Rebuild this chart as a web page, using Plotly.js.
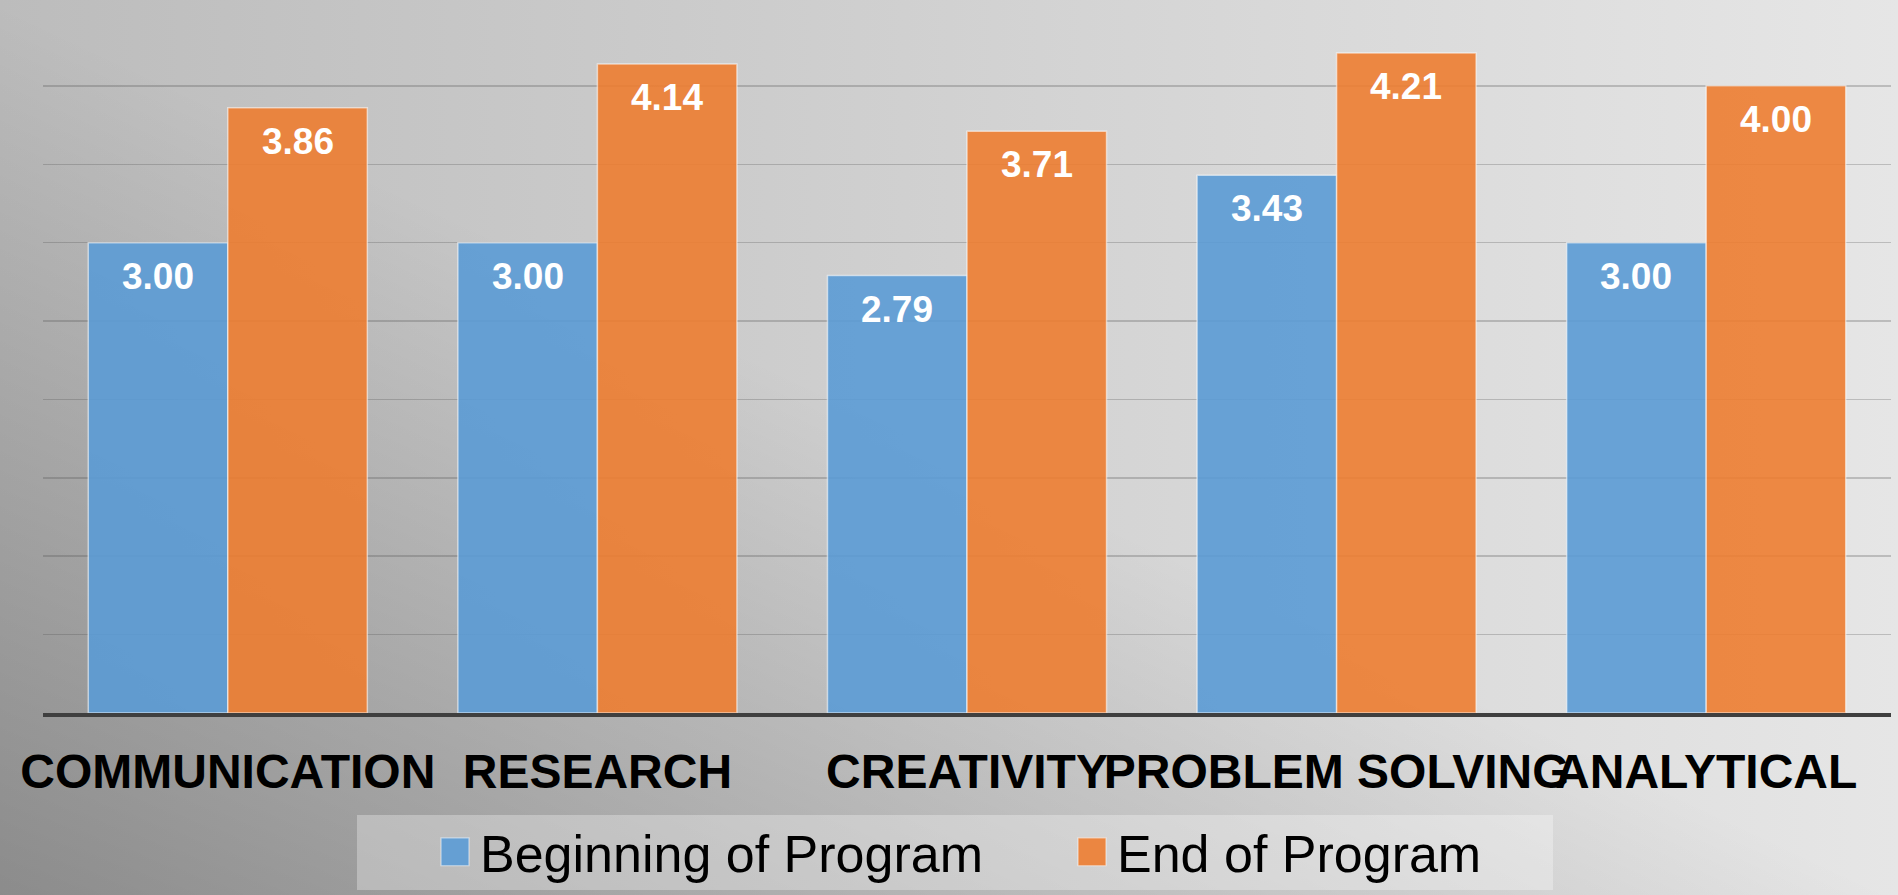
<!DOCTYPE html>
<html>
<head>
<meta charset="utf-8">
<script src="https://cdn.plot.ly/plotly-3.0.1.min.js"></script>
<style>
  html, body { margin: 0; padding: 0; }
  body {
    width: 1898px; height: 895px; overflow: hidden;
    background:
      linear-gradient(to top right, rgba(0,0,0,0.26) 0%, rgba(0,0,0,0) 50%),
      linear-gradient(to right, #bcbcbc 0%, #e6e6e6 100%);
  }
  #chart { width: 1898px; height: 895px; }
</style>
</head>
<body>
<div id="chart"></div>
<script>
const categories = ["COMMUNICATION", "RESEARCH", "CREATIVITY", "PROBLEM SOLVING", "ANALYTICAL"];
const beginningValues = [3.00, 3.00, 2.79, 3.43, 3.00];
const endValues = [3.86, 4.14, 3.71, 4.21, 4.00];
const seriesNames = ["Beginning of Program", "End of Program"];
const yTicks = [0, 0.5, 1, 1.5, 2, 2.5, 3, 3.5, 4, 4.5];

const blue = "rgba(91,155,213,0.9)";
const orange = "rgba(237,125,49,0.9)";
const barLine = { color: "rgba(255,255,255,0.55)", width: 1.5 };
const FONT = "Liberation Sans, Arial, sans-serif";

const traces = [
  { type: "bar", name: seriesNames[0], x: categories, y: beginningValues,
    marker: { color: blue, line: barLine } },
  { type: "bar", name: seriesNames[1], x: categories, y: endValues,
    marker: { color: orange, line: barLine } }
];

const M = { l: 43, r: 7, t: 7, b: 182 };
const plotW = 1898 - M.l - M.r;
const plotH = 895 - M.t - M.b;
const catW = plotW / categories.length;
const bargap = 0.245;
const halfBar = catW * (1 - bargap) / 4;

const annotations = [];
categories.forEach((c, i) => {
  [[beginningValues, -halfBar], [endValues, halfBar]].forEach(([vals, dx]) => {
    annotations.push({
      x: c, y: vals[i], xref: "x", yref: "y",
      text: vals[i].toFixed(2), showarrow: false,
      xanchor: "center", yanchor: "top", xshift: dx, yshift: -11,
      font: { family: FONT, size: 37, color: "#ffffff", weight: "bold" }
    });
  });
});

// legend backdrop (pixel box converted to paper fractions)
const legBox = { left: 357, right: 1553, top: 815, bottom: 890 };
const px2x = px => (px - M.l) / plotW;
const px2y = py => (M.t + plotH - py) / plotH;

const layout = {
  width: 1898, height: 895,
  margin: M,
  paper_bgcolor: "rgba(0,0,0,0)",
  plot_bgcolor: "rgba(0,0,0,0)",
  barmode: "group", bargap: bargap, bargroupgap: 0,
  font: { family: FONT, color: "#000" },
  xaxis: {
    type: "category", tickangle: 0, automargin: false,
    tickfont: { family: FONT, size: 48, color: "#000", weight: "bold" },
    showline: true, linecolor: "#3f3f3f", linewidth: 4,
    ticks: "", showgrid: false, ticklabelstandoff: 13
  },
  yaxis: {
    range: [0, 4.503], tickvals: yTicks, showticklabels: false, automargin: false,
    showgrid: true, gridcolor: "rgba(80,80,80,0.28)", gridwidth: 1.5,
    zeroline: false, showline: false, ticks: ""
  },
  legend: {
    orientation: "h", xref: "paper", x: px2x(430), xanchor: "left",
    yref: "container", y: (895 - 852) / 895, yanchor: "middle",
    bgcolor: "rgba(0,0,0,0)",
    font: { family: FONT, size: 52, color: "#000" },
    itemwidth: 40, entrywidth: 582, entrywidthmode: "pixels"
  },
  shapes: [{
    type: "rect", xref: "paper", yref: "paper", layer: "below",
    x0: px2x(legBox.left), x1: px2x(legBox.right),
    y0: px2y(legBox.bottom), y1: px2y(legBox.top),
    fillcolor: "rgba(255,255,255,0.3)", line: { width: 0 }
  }],
  showlegend: true,
  annotations: annotations
};

Plotly.newPlot("chart", traces, layout, { displayModeBar: false, staticPlot: true }).then(gd => {
  gd.querySelectorAll(".legendpoints path").forEach(p => {
    const t = p.getAttribute("transform") || "";
    p.setAttribute("transform", t + " scale(2.33)");
    p.style.strokeWidth = "0.5px";
  });
});
</script>
</body>
</html>
